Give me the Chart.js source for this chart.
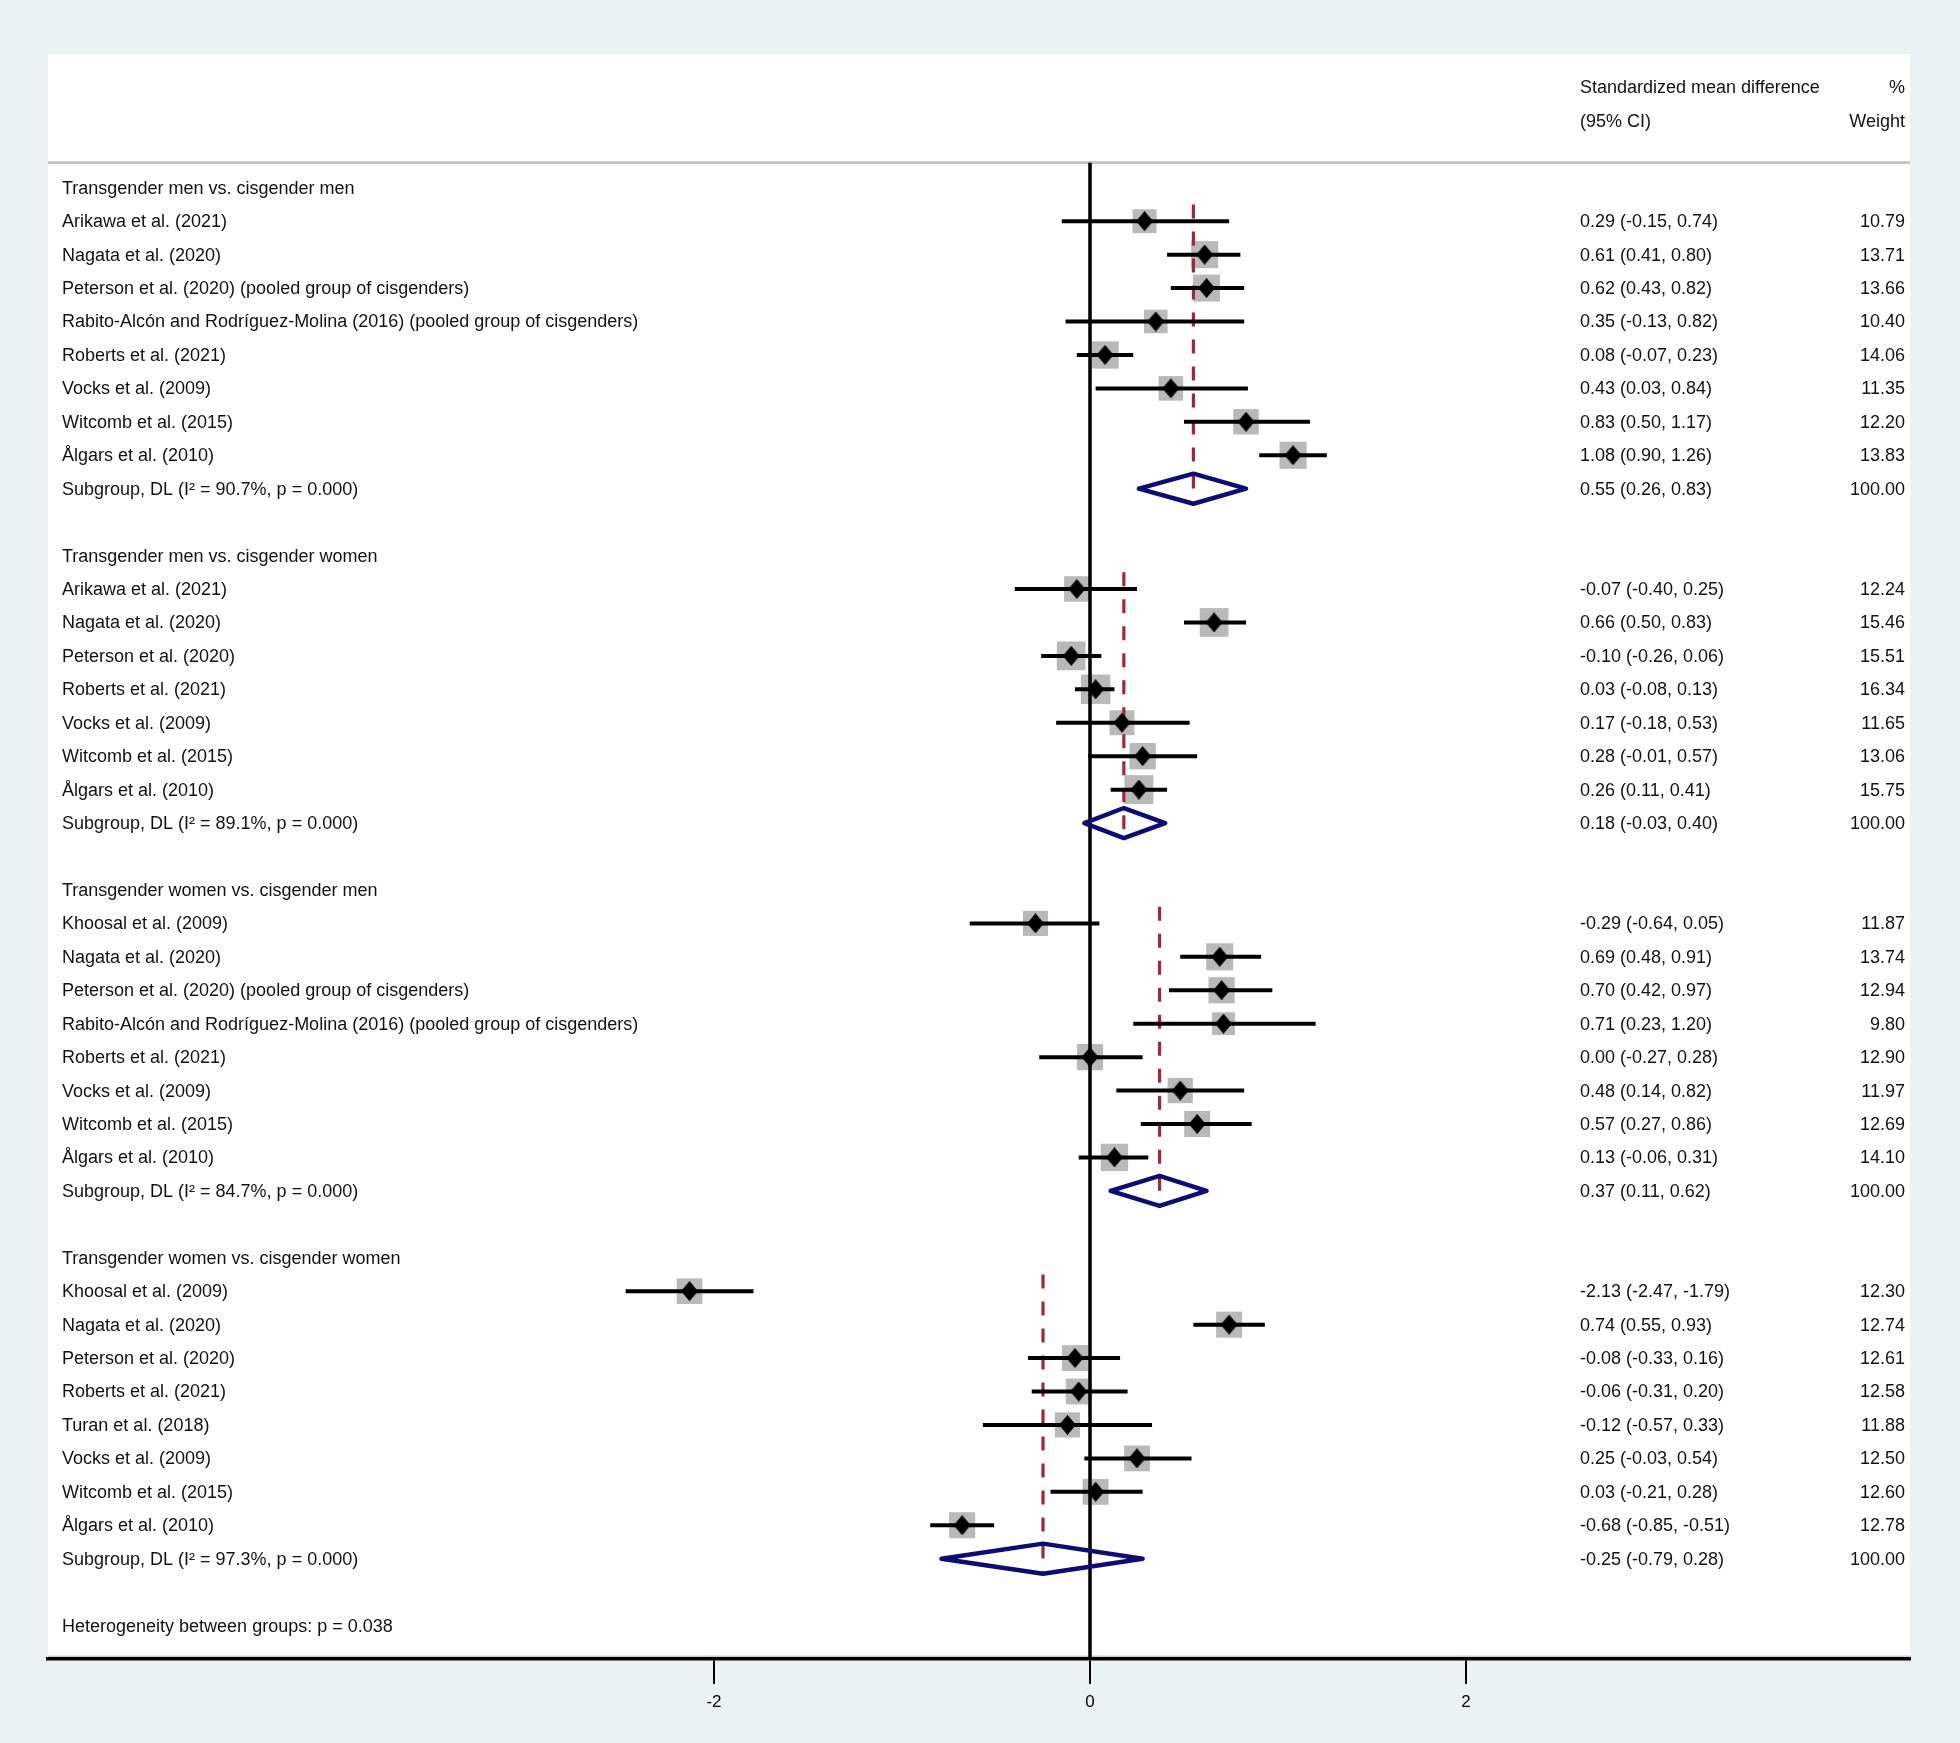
<!DOCTYPE html>
<html>
<head>
<meta charset="utf-8">
<script src="https://cdn.jsdelivr.net/npm/chart.js@4/dist/chart.umd.min.js"></script>
<style>
  html, body { margin: 0; padding: 0; background: #eaf2f3; }
  canvas { display: block; }
</style>
</head>
<body>
<canvas id="c" width="1960" height="1743"></canvas>
<script>
// ---------------- DATA ----------------
const groupTitles = [
  "Transgender men vs. cisgender men",
  "Transgender men vs. cisgender women",
  "Transgender women vs. cisgender men",
  "Transgender women vs. cisgender women"
];

const g1Studies = ["Arikawa et al. (2021)", "Nagata et al. (2020)", "Peterson et al. (2020) (pooled group of cisgenders)", "Rabito-Alcón and Rodríguez-Molina (2016) (pooled group of cisgenders)", "Roberts et al. (2021)", "Vocks et al. (2009)", "Witcomb et al. (2015)", "Ålgars et al. (2010)"];
const g1Est = [0.29, 0.61, 0.62, 0.35, 0.08, 0.43, 0.83, 1.08];
const g1Lo  = [-0.15, 0.41, 0.43, -0.13, -0.07, 0.03, 0.50, 0.90];
const g1Hi  = [0.74, 0.80, 0.82, 0.82, 0.23, 0.84, 1.17, 1.26];
const g1Wt  = [10.79, 13.71, 13.66, 10.40, 14.06, 11.35, 12.20, 13.83];

const g2Studies = ["Arikawa et al. (2021)", "Nagata et al. (2020)", "Peterson et al. (2020)", "Roberts et al. (2021)", "Vocks et al. (2009)", "Witcomb et al. (2015)", "Ålgars et al. (2010)"];
const g2Est = [-0.07, 0.66, -0.10, 0.03, 0.17, 0.28, 0.26];
const g2Lo  = [-0.40, 0.50, -0.26, -0.08, -0.18, -0.01, 0.11];
const g2Hi  = [0.25, 0.83, 0.06, 0.13, 0.53, 0.57, 0.41];
const g2Wt  = [12.24, 15.46, 15.51, 16.34, 11.65, 13.06, 15.75];

const g3Studies = ["Khoosal et al. (2009)", "Nagata et al. (2020)", "Peterson et al. (2020) (pooled group of cisgenders)", "Rabito-Alcón and Rodríguez-Molina (2016) (pooled group of cisgenders)", "Roberts et al. (2021)", "Vocks et al. (2009)", "Witcomb et al. (2015)", "Ålgars et al. (2010)"];
const g3Est = [-0.29, 0.69, 0.70, 0.71, 0.00, 0.48, 0.57, 0.13];
const g3Lo  = [-0.64, 0.48, 0.42, 0.23, -0.27, 0.14, 0.27, -0.06];
const g3Hi  = [0.05, 0.91, 0.97, 1.20, 0.28, 0.82, 0.86, 0.31];
const g3Wt  = [11.87, 13.74, 12.94, 9.80, 12.90, 11.97, 12.69, 14.10];

const g4Studies = ["Khoosal et al. (2009)", "Nagata et al. (2020)", "Peterson et al. (2020)", "Roberts et al. (2021)", "Turan et al. (2018)", "Vocks et al. (2009)", "Witcomb et al. (2015)", "Ålgars et al. (2010)"];
const g4Est = [-2.13, 0.74, -0.08, -0.06, -0.12, 0.25, 0.03, -0.68];
const g4Lo  = [-2.47, 0.55, -0.33, -0.31, -0.57, -0.03, -0.21, -0.85];
const g4Hi  = [-1.79, 0.93, 0.16, 0.20, 0.33, 0.54, 0.28, -0.51];
const g4Wt  = [12.30, 12.74, 12.61, 12.58, 11.88, 12.50, 12.60, 12.78];

const subgroupLabels = [
  "Subgroup, DL (I\u00B2 = 90.7%, p = 0.000)",
  "Subgroup, DL (I\u00B2 = 89.1%, p = 0.000)",
  "Subgroup, DL (I\u00B2 = 84.7%, p = 0.000)",
  "Subgroup, DL (I\u00B2 = 97.3%, p = 0.000)"
];
const subgroupEst = [0.55, 0.18, 0.37, -0.25];
const subgroupLo  = [0.26, -0.03, 0.11, -0.79];
const subgroupHi  = [0.83, 0.40, 0.62, 0.28];
const subgroupWt  = [100, 100, 100, 100];

const heterogeneityText = "Heterogeneity between groups: p = 0.038";
const headerCol1 = ["Standardized mean difference", "(95% CI)"];
const headerCol2 = ["%", "Weight"];
const xTickValues = [-2, 0, 2];

// ---------------- BUILD ROWS ----------------
const groups = [
  {studies: g1Studies, est: g1Est, lo: g1Lo, hi: g1Hi, wt: g1Wt},
  {studies: g2Studies, est: g2Est, lo: g2Lo, hi: g2Hi, wt: g2Wt},
  {studies: g3Studies, est: g3Est, lo: g3Lo, hi: g3Hi, wt: g3Wt},
  {studies: g4Studies, est: g4Est, lo: g4Lo, hi: g4Hi, wt: g4Wt}
];

const fmt = v => v.toFixed(2);
const textRows = [];
const studyPts = [];
const ciSets = [];
const subSets = [];
const dashSets = [];
let row = 0;
groups.forEach((g, gi) => {
  const titleRow = row;
  textRows.push({row: titleRow, label: groupTitles[gi]});
  g.studies.forEach((s, i) => {
    const r = titleRow + 1 + i;
    studyPts.push({x: g.est[i], y: r, w: g.wt[i]});
    ciSets.push([{x: g.lo[i], y: r}, {x: g.hi[i], y: r}]);
    textRows.push({row: r, label: s,
      ci: fmt(g.est[i]) + " (" + fmt(g.lo[i]) + ", " + fmt(g.hi[i]) + ")",
      wt: fmt(g.wt[i])});
  });
  const sr = titleRow + g.studies.length + 1;
  const e = subgroupEst[gi], lo = subgroupLo[gi], hi = subgroupHi[gi];
  const hh = 0.45;
  subSets.push([{x: lo, y: sr}, {x: e, y: sr - hh}, {x: hi, y: sr}, {x: e, y: sr + hh}, {x: lo, y: sr}]);
  dashSets.push([{x: e, y: titleRow + 0.5}, {x: e, y: sr + hh}]);
  textRows.push({row: sr, label: subgroupLabels[gi],
    ci: fmt(e) + " (" + fmt(lo) + ", " + fmt(hi) + ")", wt: fmt(subgroupWt[gi])});
  row = sr + 2;
});
const hetRow = row;
textRows.push({row: hetRow, label: heterogeneityText});

// ---------------- LAYOUT CONSTANTS ----------------
const PANEL_LEFT = 48, PANEL_RIGHT = 1910, PANEL_TOP = 54;
const ZERO_PX = 1090, PX_PER_UNIT = 188;
const X_MIN = -(ZERO_PX - PANEL_LEFT) / PX_PER_UNIT;
const X_MAX = (PANEL_RIGHT - ZERO_PX) / PX_PER_UNIT;
const Y_MIN = -4, Y_MAX = hetRow + 1;
const FONT = '"Liberation Sans", Arial, Helvetica, sans-serif';

// diamond marker image (slightly taller than wide)
const diamondImg = document.createElement('canvas');
diamondImg.width = 17; diamondImg.height = 20;
(() => {
  const c = diamondImg.getContext('2d');
  c.fillStyle = '#000';
  c.beginPath();
  c.moveTo(8.5, 0); c.lineTo(17, 10); c.lineTo(8.5, 20); c.lineTo(0, 10);
  c.closePath(); c.fill();
})();

const datasets = [];
datasets.push({
  data: studyPts, order: 10, pointStyle: 'rect', showLine: false,
  backgroundColor: '#b9b9b9', borderWidth: 0,
  pointRadius: ctx => (7.3 * Math.sqrt(ctx.raw ? ctx.raw.w : 0)) / Math.SQRT2,
  pointHoverRadius: ctx => (7.3 * Math.sqrt(ctx.raw ? ctx.raw.w : 0)) / Math.SQRT2
});
datasets.push({
  data: [{x: 0, y: -0.75}, {x: 0, y: Y_MAX}], order: 9, showLine: true,
  borderColor: '#000', borderWidth: 3.5, pointRadius: 0, borderCapStyle: 'butt'
});
dashSets.forEach(d => datasets.push({
  data: d, order: 8, showLine: true, borderColor: '#9b2a35', borderWidth: 3.2,
  borderDash: [14, 13], pointRadius: 0, borderCapStyle: 'butt'
}));
ciSets.forEach(d => datasets.push({
  data: d, order: 7, showLine: true, borderColor: '#000', borderWidth: 4,
  pointRadius: 0, borderCapStyle: 'butt'
}));
datasets.push({
  data: studyPts, order: 6, showLine: false, pointStyle: diamondImg,
  pointRadius: 9, pointHoverRadius: 9, backgroundColor: '#000', borderWidth: 0
});
subSets.forEach(d => datasets.push({
  data: d, order: 5, showLine: true, borderColor: '#0c0c74', borderWidth: 4.5,
  pointRadius: 0, borderJoinStyle: 'round', borderCapStyle: 'round', fill: false, tension: 0
}));

const panelPlugin = {
  id: 'panel',
  beforeDraw(chart) {
    const {ctx, chartArea: a} = chart;
    ctx.save();
    ctx.fillStyle = '#ffffff';
    ctx.fillRect(a.left, PANEL_TOP, a.right - a.left, a.bottom - PANEL_TOP);
    const ys = chart.scales.y;
    ctx.fillStyle = '#c4c4c4';
    const sy = ys.getPixelForValue(-0.75);
    ctx.fillRect(a.left, sy - 1.5, a.right - a.left, 3);
    ctx.fillStyle = '#cfcfcf';
    ctx.fillRect(a.left, a.bottom - 3.5, a.right - a.left, 1.5);
    ctx.restore();
  },
  afterDraw(chart) {
    const {ctx} = chart;
    const ys = chart.scales.y;
    ctx.save();
    ctx.font = '18px ' + FONT;
    ctx.fillStyle = '#111';
    ctx.textBaseline = 'middle';
    const LX = 62, CX = 1580, WX = 1905, DY = 1;
    [-3, -2].forEach((r, i) => {
      const y = ys.getPixelForValue(r) + DY;
      ctx.textAlign = 'left';
      ctx.fillText(headerCol1[i], CX, y);
      ctx.textAlign = 'right';
      ctx.fillText(headerCol2[i], WX, y);
    });
    textRows.forEach(t => {
      const y = ys.getPixelForValue(t.row) + DY;
      ctx.textAlign = 'left';
      ctx.fillText(t.label, LX, y);
      if (t.ci) ctx.fillText(t.ci, CX, y);
      if (t.wt) { ctx.textAlign = 'right'; ctx.fillText(t.wt, WX, y); }
    });
    ctx.restore();
  }
};

new Chart(document.getElementById('c'), {
  type: 'scatter',
  data: {datasets},
  plugins: [panelPlugin],
  options: {
    responsive: false,
    animation: false,
    devicePixelRatio: 1,
    events: [],
    layout: {padding: {left: PANEL_LEFT, right: 1960 - PANEL_RIGHT, top: PANEL_TOP, bottom: 0}},
    plugins: {legend: {display: false}, tooltip: {enabled: false}},
    scales: {
      x: {
        type: 'linear', position: 'bottom', min: X_MIN, max: X_MAX,
        afterBuildTicks: s => { s.ticks = xTickValues.map(v => ({value: v})); },
        afterFit: s => { s.height = 84; },
        grid: {drawOnChartArea: false, drawTicks: true, tickLength: 25, color: '#000', lineWidth: 2},
        border: {display: true, color: '#000', width: 3.5},
        ticks: {color: '#000', font: {family: FONT, size: 17}, padding: 8,
                callback: v => String(v), maxRotation: 0, autoSkip: false}
      },
      y: {type: 'linear', min: Y_MIN, max: Y_MAX, reverse: true, display: false}
    }
  }
});
</script>
</body>
</html>
